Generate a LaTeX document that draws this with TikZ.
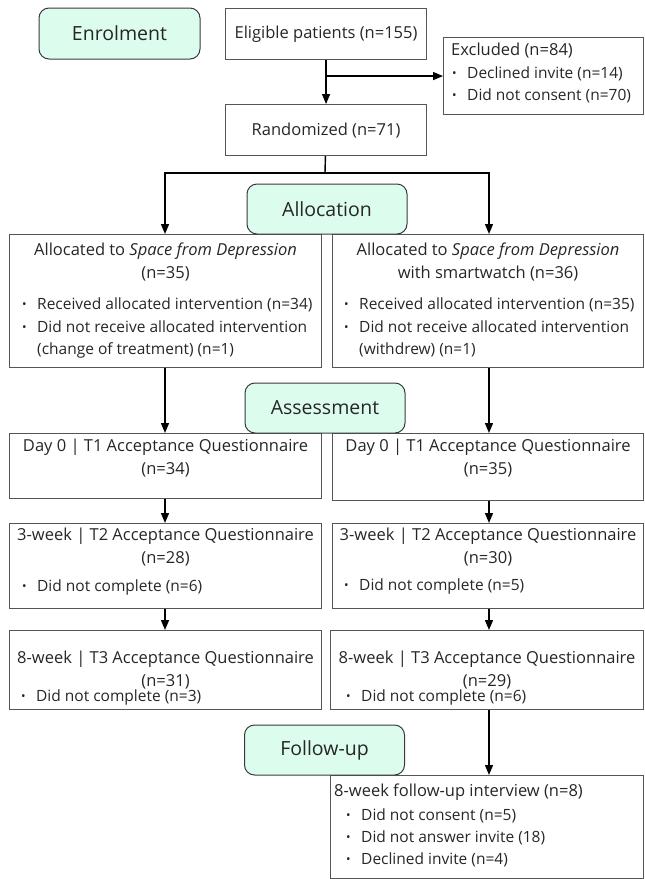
\documentclass[tikz,border=0pt]{standalone}
\usepackage{fontspec}
\setmainfont{Open Sans}
\usetikzlibrary{positioning,arrows.meta}
\definecolor{phasefill}{HTML}{DCFCEE}
\definecolor{phaseline}{HTML}{3A3A3A}
\definecolor{boxline}{HTML}{555555}
\definecolor{ink}{HTML}{262626}
\newcommand{\bul}{\makebox[15pt][l]{\raisebox{1pt}{\fontsize{12}{12}\selectfont\textbullet}}}
\newcommand{\ind}{\hspace*{15pt}}
\newcommand{\titlesize}{\fontsize{16.5}{22.5}\selectfont}

\begin{document}
\begin{tikzpicture}[x=1pt, y=-1pt,
    font=\fontsize{16.5}{22.5}\selectfont, text=ink,
    phase/.style={draw=phaseline, fill=phasefill, line width=1pt, rounded corners=10pt,
        minimum width=160pt, minimum height=50pt, inner sep=0pt, font=\fontsize{19.5}{22}\selectfont},
    box/.style={draw=boxline, line width=1.1pt, inner sep=0pt, anchor=north west},
    head/.style={inner sep=0pt, align=center, anchor=north},
    list/.style={inner sep=0pt, align=left, anchor=north west, font=\fontsize{15.5}{22.3}\selectfont},
    flow/.style={-{Triangle[length=10pt, width=8pt]}, line width=1.4pt}]

    \useasboundingbox (0,0) rectangle (645,879);

    % enrolment
    \node[phase, minimum width=161pt, minimum height=51pt] (enrol) at (119.5,33.5) {Enrolment};
    \node[box, minimum width=201pt, minimum height=51pt] (eligible) at (225,8) {};
    \node (eligibletxt) at (eligible.center) {Eligible patients (n=155)};
    \node[box, minimum width=200pt, minimum height=77pt] (excluded) at (443,37) {};
    \node[list, below right=6pt and 8pt of excluded.north west] (excludedtxt)
        {{\titlesize Excluded (n=84)}\\\hspace*{1pt}\bul Declined invite (n=14)\\\hspace*{1pt}\bul Did not consent (n=70)};
    \node[box, minimum width=201pt, minimum height=51pt] (random) at (225,104) {};
    \node (randomtxt) at (random.center) {Randomized (n=71)};

    % allocation
    \node[box, minimum width=312pt, minimum height=133pt] (armA) at (9,234) {};
    \node[box, minimum width=311pt, minimum height=133pt] (armB) at (332,234) {};
    \node[phase] (alloc) at (327,209) {Allocation};
    \node[head, below=9pt of armA.north] (armAhead)
        {Allocated to \textit{Space from Depression}\\(n=35)};
    \node[list, below right=64pt and 13pt of armA.north west] (armAlist)
        {\bul Received allocated intervention (n=34)\\\bul Did not receive allocated intervention\\\ind(change of treatment) (n=1)};
    \node[head, below=9pt of armB.north] (armBhead)
        {Allocated to \textit{Space from Depression}\\with smartwatch (n=36)};
    \node[list, below right=64pt and 12pt of armB.north west] (armBlist)
        {\bul Received allocated intervention (n=35)\\\bul Did not receive allocated intervention\\\ind(withdrew) (n=1)};

    % assessment
    \node[box, minimum width=312pt, minimum height=65pt] (dayA) at (9,433) {};
    \node[box, minimum width=311pt, minimum height=67pt] (dayB) at (332,433) {};
    \node[phase] (assess) at (325,408) {Assessment};
    \node[head, below=6pt of dayA.north] (dayAhead)
        {Day 0 | T1 Acceptance Questionnaire\\(n=34)};
    \node[head, below=6pt of dayB.north] (dayBhead)
        {Day 0 | T1 Acceptance Questionnaire\\(n=35)};

    \node[box, minimum width=312pt, minimum height=85pt] (wkthreeA) at (9,523) {};
    \node[box, minimum width=311pt, minimum height=85pt] (wkthreeB) at (332,523) {};
    \node[head, below=5pt of wkthreeA.north] (wkthreeAhead)
        {3-week | T2 Acceptance Questionnaire\\(n=28)};
    \node[list, below right=57pt and 13pt of wkthreeA.north west] (wkthreeAlist)
        {\bul Did not complete (n=6)};
    \node[head, below=5pt of wkthreeB.north] (wkthreeBhead)
        {3-week | T2 Acceptance Questionnaire\\(n=30)};
    \node[list, below right=56pt and 12pt of wkthreeB.north west] (wkthreeBlist)
        {\bul Did not complete (n=5)};

    \node[box, minimum width=312pt, minimum height=79pt] (wkeightA) at (9,630) {};
    \node[box, minimum width=313pt, minimum height=79pt] (wkeightB) at (330,630) {};
    \node[head, below=21pt of wkeightA.north] (wkeightAhead)
        {8-week | T3 Acceptance Questionnaire\\(n=31)};
    \node[list, below right=60pt and 12pt of wkeightA.north west] (wkeightAlist)
        {\bul Did not complete (n=3)};
    \node[head, below=21pt of wkeightB.north] (wkeightBhead)
        {8-week | T3 Acceptance Questionnaire\\(n=29)};
    \node[list, below right=60pt and 16pt of wkeightB.north west] (wkeightBlist)
        {\bul Did not complete (n=6)};

    % follow-up
    \node[box, minimum width=313pt, minimum height=103pt] (interview) at (330,775) {};
    \node[phase] (follow) at (324.5,750) {Follow-up};
    \node[list, below right=9pt and 4pt of interview.north west] (interviewtxt)
        {{\titlesize 8-week follow-up interview (n=8)}\\[1pt]\hspace*{12pt}\bul Did not consent (n=5)\\\hspace*{12pt}\bul Did not answer invite (18)\\\hspace*{12pt}\bul Declined invite (n=4)};

    % connectors
    \coordinate (split) at (325,173);
    \draw[flow] (eligible) -- (random);
    \draw[flow] (eligible.south |- excluded.west) -- (excluded.west);
    \draw[line width=1.4pt] (random) -- (split);
    \draw[flow] (split) -| (armA.north -| 165,0);
    \draw[flow] (split) -| (armB.north -| 489,0);
    \draw[flow] (armA.south -| 165,0) -- (dayA.north -| 165,0);
    \draw[flow] (armB.south -| 489,0) -- (dayB.north -| 489,0);
    \draw[flow] (dayA.south -| 165,0) -- (wkthreeA.north -| 165,0);
    \draw[flow] (dayB.south -| 489,0) -- (wkthreeB.north -| 489,0);
    \draw[flow] (wkthreeA.south -| 165,0) -- (wkeightA.north -| 165,0);
    \draw[flow] (wkthreeB.south -| 489,0) -- (wkeightB.north -| 489,0);
    \draw[flow] (wkeightB.south -| 489,0) -- (interview.north -| 489,0);

\end{tikzpicture}
\end{document}
